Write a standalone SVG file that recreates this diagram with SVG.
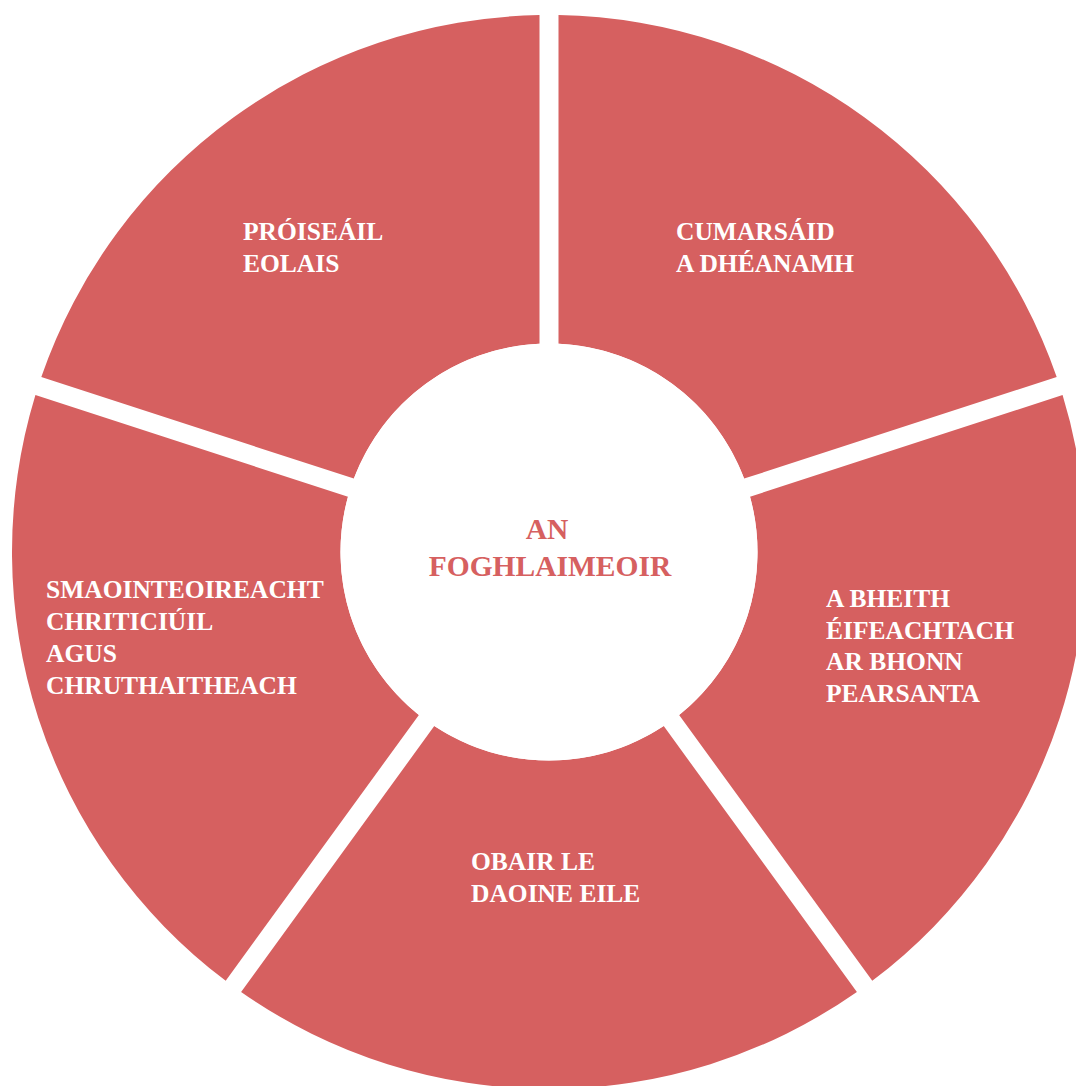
<svg xmlns="http://www.w3.org/2000/svg" width="1076" height="1086" viewBox="0 0 1076 1086">
<style>
.seg{fill:#d66060}
.lbl{font-family:"Liberation Serif","DejaVu Serif",serif;font-weight:bold;font-size:25.5px;fill:#ffffff}
.ctr{font-family:"Liberation Serif","DejaVu Serif",serif;font-weight:bold;font-size:29.5px;fill:#d66060;text-anchor:middle}
</style>
<rect width="1076" height="1086" fill="#ffffff"/>
<g id="connectors"></g>
<g id="seg-cumarsaid">
<path class="seg" d="M558.5 15.084 A537 537 0 0 1 1056.702 377.048 L744.153 478.602 A208.5 208.5 0 0 0 558.5 343.717 Z"/>
<text class="lbl"><tspan x="676" y="240">CUMARSÁID</tspan><tspan x="676" y="272">A DHÉANAMH</tspan></text>
</g>
<g id="seg-bheith">
<path class="seg" d="M1062.574 395.118 A537 537 0 0 1 872.277 980.79 L679.112 714.921 A208.5 208.5 0 0 0 750.025 496.672 Z"/>
<text class="lbl"><tspan x="826" y="607">A BHEITH</tspan><tspan x="826" y="638.5">ÉIFEACHTACH</tspan><tspan x="826" y="670">AR BHONN</tspan><tspan x="826" y="701.5">PEARSANTA</tspan></text>
</g>
<g id="seg-obair">
<path class="seg" d="M856.905 991.958 A537 537 0 0 1 241.095 991.958 L434.26 726.089 A208.5 208.5 0 0 0 663.74 726.089 Z"/>
<text class="lbl"><tspan x="471" y="870">OBAIR LE</tspan><tspan x="471" y="902">DAOINE EILE</tspan></text>
</g>
<g id="seg-smaointeoireacht">
<path class="seg" d="M225.723 980.79 A537 537 0 0 1 35.426 395.118 L347.975 496.672 A208.5 208.5 0 0 0 418.888 714.921 Z"/>
<text class="lbl"><tspan x="46" y="598">SMAOINTEOIREACHT</tspan><tspan x="46" y="630">CHRITICIÚIL</tspan><tspan x="46" y="662">AGUS</tspan><tspan x="46" y="694">CHRUTHAITHEACH</tspan></text>
</g>
<g id="seg-proiseail">
<path class="seg" d="M41.298 377.048 A537 537 0 0 1 539.5 15.084 L539.5 343.717 A208.5 208.5 0 0 0 353.847 478.602 Z"/>
<text class="lbl"><tspan x="243" y="240">PRÓISEÁIL</tspan><tspan x="243" y="272">EOLAIS</tspan></text>
</g>
<g id="center">
<circle cx="549" cy="552" r="208.5" fill="#ffffff"/>
<text class="ctr"><tspan x="547" y="539">AN</tspan><tspan x="550" y="576">FOGHLAIMEOIR</tspan></text>
</g>
</svg>
